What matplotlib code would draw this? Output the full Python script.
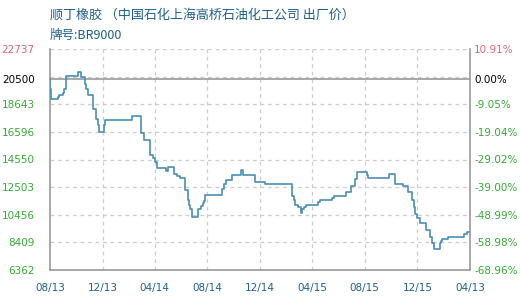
import math
import matplotlib
matplotlib.use("Agg")
import matplotlib.pyplot as plt
import numpy as np
import pandas as pd

plt.rcParams['font.family'] = ['Noto Sans CJK SC', 'DejaVu Sans']

# Price change dates and the ex-works price that holds from each date
change_dates = [
    "2013-08-01", "2013-08-02", "2013-08-03", "2013-08-20", "2013-08-23", "2013-08-30",
    "2013-09-02", "2013-09-06", "2013-09-08", "2013-10-05", "2013-10-06", "2013-10-12",
    "2013-10-22", "2013-10-24", "2013-10-27", "2013-11-08", "2013-11-15", "2013-11-21",
    "2013-11-23", "2013-12-04", "2013-12-06", "2014-02-07", "2014-02-28", "2014-03-01",
    "2014-03-08", "2014-03-22", "2014-03-29", "2014-04-02", "2014-04-06", "2014-04-28",
    "2014-05-01", "2014-05-16", "2014-05-22", "2014-05-29", "2014-06-11", "2014-06-18",
    "2014-06-20", "2014-06-22", "2014-06-27", "2014-07-11", "2014-07-18", "2014-07-22",
    "2014-07-24", "2014-07-26", "2014-09-05", "2014-09-08", "2014-09-13", "2014-09-26",
    "2014-09-28", "2014-10-18", "2014-10-23", "2014-11-20", "2014-12-12", "2015-02-13",
    "2015-02-18", "2015-02-21", "2015-02-28", "2015-03-05", "2015-03-09", "2015-03-12",
    "2015-03-17", "2015-04-14", "2015-04-20", "2015-05-16", "2015-05-21", "2015-06-18",
    "2015-07-01", "2015-07-09", "2015-07-15", "2015-08-05", "2015-08-08", "2015-09-25",
    "2015-10-09", "2015-10-29", "2015-11-10", "2015-11-18", "2015-11-23", "2015-11-26",
    "2015-12-01", "2015-12-06", "2015-12-22", "2015-12-30", "2016-01-03", "2016-01-09",
    "2016-01-22", "2016-01-24", "2016-01-28", "2016-02-11", "2016-03-19", "2016-03-26",
    "2016-03-31",
]
prices = [
    20500, 19800, 19000, 19150, 19300, 19500,
    19800, 20300, 20750, 20900, 21050, 20650,
    20150, 19800, 19300, 18300, 17550, 17100,
    16600, 17100, 17500, 17800, 17250, 16550,
    16000, 14900, 14650, 14350, 13900, 13700,
    14000, 13450, 13350, 13200, 12300, 11550,
    11150, 10850, 10300, 10850, 11100, 11300,
    11500, 11950, 12400, 12750, 13050, 13200,
    13400, 13750, 13400, 12900, 12750, 11850,
    11550, 11150, 11050, 10550, 10850, 11050,
    11200, 11400, 11550, 11700, 11850, 12150,
    12600, 13100, 13650, 13400, 13200, 13450,
    12750, 12600, 12150, 11550, 11000, 10500,
    10250, 9850, 9350, 8800, 8350, 7950,
    8350, 8500, 8650, 8800, 9000, 9150,
    9150,
]

base_price = 20500
y_ticks = [22737, 20500, 18643, 16596, 14550, 12503, 10456, 8409, 6362]
x_tick_dates = ["2013-08-01", "2013-12-01", "2014-04-01", "2014-08-01", "2014-12-01",
                "2015-04-01", "2015-08-01", "2015-12-01", "2016-04-01"]
x_tick_labels = ["08/13", "12/13", "04/14", "08/14", "12/14", "04/15", "08/15", "12/15", "04/13"]

title = "顺丁橡胶 （中国石化上海高桥石油化工公司 出厂价）"
subtitle = "牌号:BR9000"

line_color = "#4a8fb3"
grid_color = "#cccccc"
frame_color = "#999999"
green = "#33aa33"
red = "#d9666f"
blue = "#1f5f8f"

fig = plt.figure(figsize=(5.2, 3.0), dpi=100)
ax = fig.add_axes([50 / 520, 30 / 300, 420 / 520, 221 / 300])

dates = pd.to_datetime(change_dates)
xt = pd.to_datetime(x_tick_dates)
ymin, ymax = min(y_ticks), max(y_ticks)

ax.set_xlim(xt[0], xt[-1])
ax.set_ylim(ymin, ymax)

# dashed grid
for g in np.linspace(ymin, ymax, 9):
    ax.axhline(g, color=grid_color, lw=0.9, ls=(0, (3, 3)), zorder=1)
for d in xt[1:-1]:
    ax.axvline(d, color=grid_color, lw=0.9, ls=(0, (3, 3)), zorder=1)

# reference price line
ax.axhline(base_price, color=frame_color, lw=1.2, zorder=2)

ax.step(dates, prices, where="post", color=line_color, lw=1.2, zorder=3)

for side in ("left", "right", "bottom"):
    ax.spines[side].set_color(frame_color)
    ax.spines[side].set_linewidth(1.2)
ax.spines["top"].set_visible(False)

ax.set_yticks(y_ticks)
ax.set_yticklabels([str(v) for v in y_ticks], fontsize=7.5, family="DejaVu Sans")
ax.tick_params(axis="y", length=0, pad=11)
for lbl, v in zip(ax.get_yticklabels(), y_ticks):
    lbl.set_color(red if v > base_price else ("black" if v == base_price else green))

ax.set_xticks(xt)
ax.set_xticklabels(x_tick_labels, fontsize=7.5, family="DejaVu Sans", color=blue)
ax.tick_params(axis="x", length=0, pad=9)

# percent change relative to the reference price
ax2 = ax.twinx()
ax2.set_ylim(ymin, ymax)
ax2.set_yticks(y_ticks)
pct = [math.trunc((v - base_price) / base_price * 10000) / 100 for v in y_ticks]
ax2.set_yticklabels([f"{p:.2f}%" for p in pct], fontsize=7.5, family="DejaVu Sans")
ax2.tick_params(axis="y", length=0, pad=3)
for lbl, v in zip(ax2.get_yticklabels(), y_ticks):
    lbl.set_color(red if v > base_price else ("black" if v == base_price else green))
for s in ax2.spines.values():
    s.set_visible(False)

fig.text(50 / 520, 1 - 15 / 300, title, fontsize=9.4, color=blue, va="center", ha="left")
fig.text(50 / 520, 1 - 35 / 300, subtitle, fontsize=9, color=blue, va="center", ha="left")

fig.savefig("out.png", dpi=100, facecolor="white")
